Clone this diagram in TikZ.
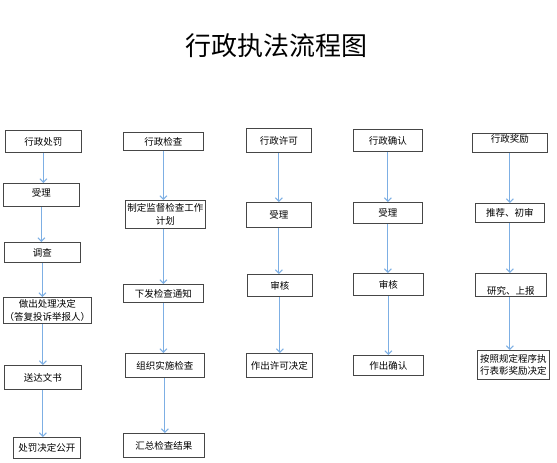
\documentclass[tikz,border=0pt]{standalone}
\usepackage{fontspec}
\newfontfamily\cjk{Noto Sans CJK SC}
\usepackage{tikz}
\usetikzlibrary{arrows.meta, positioning, calc}
\definecolor{FlowBlue}{RGB}{125,175,228}
\definecolor{BoxGray}{RGB}{70,70,70}

\begin{document}
\begin{tikzpicture}[x=1pt, y=-1pt,
        box/.style={draw=BoxGray, line width=0.8pt, fill=white, inner sep=0pt,
            anchor=north west, align=center, font=\cjk\fontsize{9.5}{13}\selectfont},
        flow/.style={draw=FlowBlue, line width=1pt, -{Straight Barb[length=3.5pt, width=7pt]}}]
        % Page frame (white, fixes the proportions)
        \useasboundingbox[fill=white] (0,0) rectangle (557,463);

        % Title
        \node[font=\cjk\fontsize{26}{30}\selectfont] (title) at (276,46) {行政执法流程图};

        % Column 1: administrative penalty
        \node[box, minimum width=76, minimum height=22] (cfA) at (5,130) {行政处罚};
        \node[box, minimum width=76, minimum height=23, text depth=4pt] (cfB) at (3,183) {受理};
        \node[box, minimum width=76, minimum height=20] (cfC) at (4,242) {调查};
        \node[box, minimum width=88, minimum height=26] (cfD) at (3,297) {做出处理决定\\（答复投诉举报人）};
        \node[box, minimum width=77, minimum height=24] (cfE) at (4,365) {送达文书};
        \node[box, minimum width=67, minimum height=21] (cfF) at (13,437) {处罚决定公开};

        \draw[flow] (cfA) -- (cfA |- cfB.north);
        \draw[flow] (cfB) -- (cfB |- cfC.north);
        \draw[flow] (cfC) -- (cfC |- cfD.north);
        \draw[flow] (cfD.south -| cfE) -- (cfE);
        \draw[flow] (cfE) -- (cfE |- cfF.north);

        % Column 2: administrative inspection
        \node[box, minimum width=80, minimum height=18] (jcA) at (123,132) {行政检查};
        \node[box, minimum width=80, minimum height=28] (jcB) at (125,200) {制定监督检查工作\\计划};
        \node[box, minimum width=80, minimum height=18] (jcC) at (123,284) {下发检查通知};
        \node[box, minimum width=79, minimum height=24] (jcD) at (125,353) {组织实施检查};
        \node[box, minimum width=81, minimum height=24] (jcE) at (123,433) {汇总检查结果};

        \draw[flow] (jcA) -- (jcA |- jcB.north);
        \draw[flow] (jcB.south -| jcA) -- (jcA |- jcC.north);
        \draw[flow] (jcC) -- (jcC |- jcD.north);
        \draw[flow] (jcD) -- (jcD |- jcE.north);

        % Column 3: administrative licensing
        \node[box, minimum width=65, minimum height=24] (xkA) at (246,128) {行政许可};
        \node[box, minimum width=65, minimum height=25] (xkB) at (246,202) {受理};
        \node[box, minimum width=65, minimum height=22] (xkC) at (247,274) {审核};
        \node[box, minimum width=66, minimum height=24] (xkD) at (246,353) {作出许可决定};

        \draw[flow] (xkA) -- (xkA |- xkB.north);
        \draw[flow] (xkB) -- (xkB |- xkC.north);
        \draw[flow] (xkC) -- (xkC |- xkD.north);

        % Column 4: administrative confirmation
        \node[box, minimum width=69, minimum height=22] (qrA) at (353,129) {行政确认};
        \node[box, minimum width=69, minimum height=21] (qrB) at (353,202) {受理};
        \node[box, minimum width=70, minimum height=22] (qrC) at (353,273) {审核};
        \node[box, minimum width=70, minimum height=20] (qrD) at (353,355) {作出确认};

        \draw[flow] (qrA) -- (qrA |- qrB.north);
        \draw[flow] (qrB) -- (qrB |- qrC.north);
        \draw[flow] (qrC) -- (qrC |- qrD.north);

        % Column 5: administrative reward
        \node[box, minimum width=75, minimum height=19, text depth=8pt] (jlA) at (472,133) {行政奖励};
        \node[box, minimum width=69, minimum height=19] (jlB) at (475,203) {推荐、初审};
        \node[box, minimum width=71, minimum height=23, text height=20pt] (jlC) at (475,273) {研究、上报};
        \node[box, minimum width=72, minimum height=29, font=\cjk\fontsize{9.5}{11.5}\selectfont] (jlD) at (477,350) {按照规定程序执\\行表彰奖励决定};

        \draw[flow] (jlA) -- (jlA |- jlB.north);
        \draw[flow] (jlB) -- (jlB |- jlC.north);
        \draw[flow] (jlC.south -| jlB) -- (jlB |- jlD.north);
    \end{tikzpicture}
\end{document}
